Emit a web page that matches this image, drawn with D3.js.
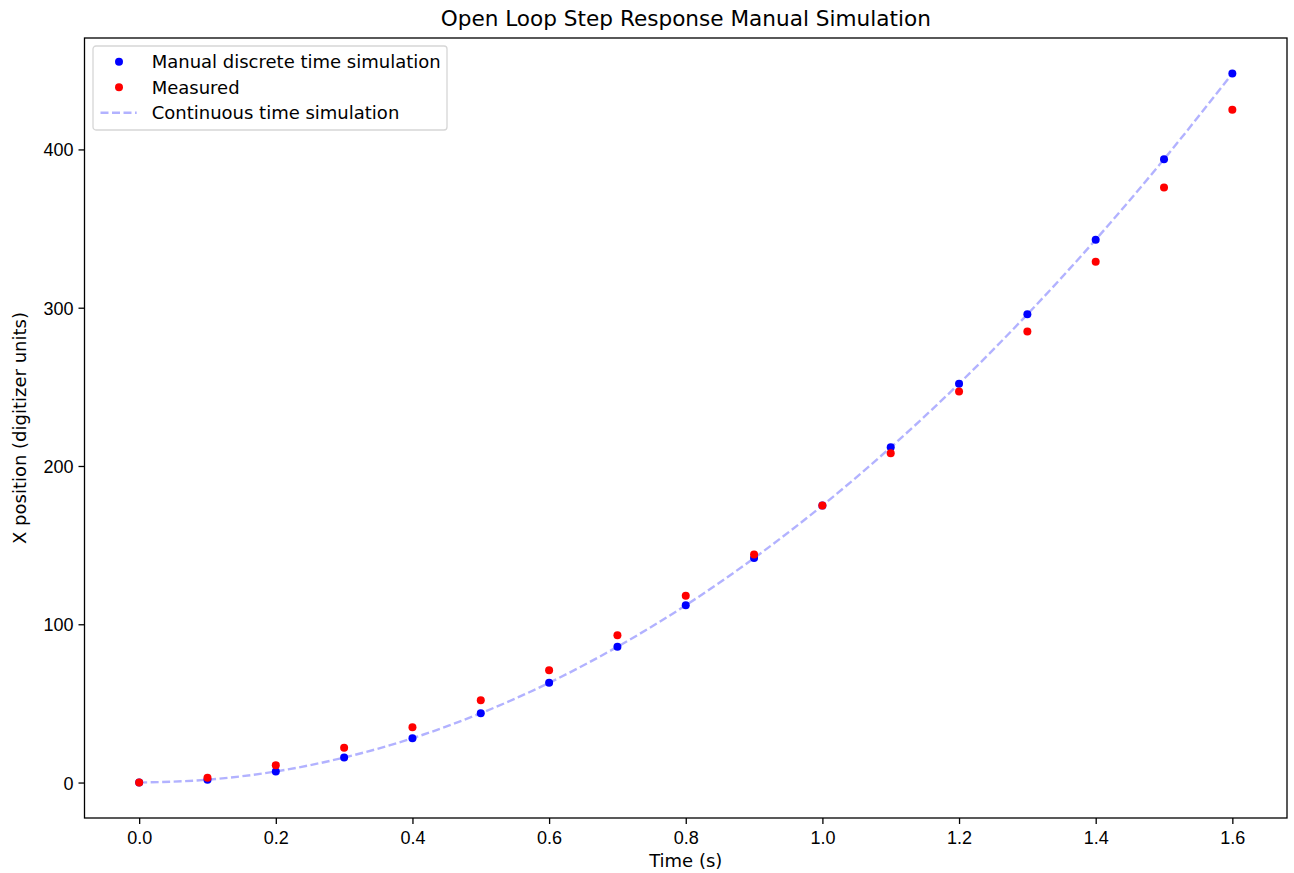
<!DOCTYPE html>
<html>
<head>
<meta charset="utf-8">
<script src="https://cdn.jsdelivr.net/npm/d3@7"></script>
<style>
  body { margin: 0; background: #fff; }
  svg { font-family: "DejaVu Sans", sans-serif; }
  .tick text { font-size: 18px; fill: #000; }
  .tick line { stroke: #000; stroke-width: 1.3; }
</style>
</head>
<body>
<svg id="chart"></svg>
<script>
// time samples (s)
const times = [0.0, 0.1, 0.2, 0.3, 0.4, 0.5, 0.6, 0.7, 0.8, 0.9, 1.0, 1.1, 1.2, 1.3, 1.4, 1.5, 1.6];
// manual discrete time simulation (blue dots)
const manualValues = [0, 1.8, 7, 15.8, 28, 43.8, 63, 85.8, 112, 141.8, 175, 211.8, 252, 295.8, 343, 393.8, 448];
// measured (red dots)
const measuredValues = [0, 3, 11, 22, 35, 52, 71, 93, 118, 144, 175, 208, 247, 285, 329, 376, 425];
// continuous time simulation (dashed line), read at the same times
const continuousValues = [0, 1.8, 7, 15.8, 28, 43.8, 63, 85.8, 112, 141.8, 175, 211.8, 252, 295.8, 343, 393.8, 448];

const xTicks = [0, 0.2, 0.4, 0.6, 0.8, 1.0, 1.2, 1.4, 1.6];
const yTicks = [0, 100, 200, 300, 400];

const legendLabels = ['Manual discrete time simulation', 'Measured', 'Continuous time simulation'];

const width = 1294, height = 873;
const margin = {top: 38, right: 7, bottom: 55, left: 84.5};
const innerW = width - margin.left - margin.right;
const innerH = height - margin.top - margin.bottom;

const svg = d3.select('#chart')
    .attr('width', width)
    .attr('height', height);

const chart = svg.append('g')
    .attr('transform', `translate(${margin.left},${margin.top})`);

const xScale = d3.scaleLinear()
    .domain([-0.08, 1.68])
    .range([0, innerW]);

const yScale = d3.scaleLinear()
    .domain([-22.4, 470.4])
    .range([innerH, 0]);

// axes
const xAxis = d3.axisBottom(xScale)
    .tickValues(xTicks)
    .tickSize(6)
    .tickSizeOuter(0)
    .tickPadding(5)
    .tickFormat(d3.format('.1f'));

const yAxis = d3.axisLeft(yScale)
    .tickValues(yTicks)
    .tickSize(6)
    .tickSizeOuter(0)
    .tickPadding(5)
    .tickFormat(d3.format('d'));

chart.append('g')
    .attr('transform', `translate(0,${innerH})`)
    .call(xAxis)
    .call(g => g.select('.domain').remove())
    .selectAll('text').attr('dy', '0.85em');

chart.append('g')
    .call(yAxis)
    .call(g => g.select('.domain').remove())
    .selectAll('text').attr('dy', '0.36em');

// continuous line
const line = d3.line()
    .x((d, i) => xScale(times[i]))
    .y(d => yScale(d))
    .curve(d3.curveMonotoneX);

chart.append('path')
    .datum(continuousValues)
    .attr('d', line)
    .attr('fill', 'none')
    .attr('stroke', 'blue')
    .attr('stroke-opacity', 0.3)
    .attr('stroke-width', 2.4)
    .attr('stroke-dasharray', '8,3.5');

// dots
chart.selectAll('.manual')
    .data(manualValues)
  .join('circle')
    .attr('class', 'manual')
    .attr('cx', (d, i) => xScale(times[i]))
    .attr('cy', d => yScale(d))
    .attr('r', 4)
    .attr('fill', 'blue');

chart.selectAll('.measured')
    .data(measuredValues)
  .join('circle')
    .attr('class', 'measured')
    .attr('cx', (d, i) => xScale(times[i]))
    .attr('cy', d => yScale(d))
    .attr('r', 4)
    .attr('fill', 'red');

// frame
chart.append('rect')
    .attr('width', innerW)
    .attr('height', innerH)
    .attr('fill', 'none')
    .attr('stroke', '#000')
    .attr('stroke-width', 1.3);

// title & axis labels
svg.append('text')
    .attr('x', margin.left + innerW / 2)
    .attr('y', 26)
    .attr('text-anchor', 'middle')
    .style('font-size', '21.6px')
    .text('Open Loop Step Response Manual Simulation');

svg.append('text')
    .attr('x', margin.left + innerW / 2)
    .attr('y', 867)
    .attr('text-anchor', 'middle')
    .style('font-size', '18px')
    .text('Time (s)');

svg.append('text')
    .attr('transform', `translate(26,${margin.top + innerH / 2}) rotate(-90)`)
    .attr('text-anchor', 'middle')
    .style('font-size', '18px')
    .text('X position (digitizer units)');

// legend
const legend = svg.append('g')
    .attr('transform', 'translate(93,46)');

legend.append('rect')
    .attr('width', 354)
    .attr('height', 84)
    .attr('rx', 3)
    .attr('fill', '#fff')
    .attr('fill-opacity', 0.8)
    .attr('stroke', '#d6d6d6')
    .attr('stroke-width', 1.3);

const rowY = [15.7, 41.3, 66.7];
const legendColors = ['blue', 'red'];

legendColors.forEach((c, i) => {
  legend.append('circle')
      .attr('cx', 26)
      .attr('cy', rowY[i])
      .attr('r', 4)
      .attr('fill', c);
});

legend.append('line')
    .attr('x1', 7.5).attr('x2', 43.7)
    .attr('y1', rowY[2]).attr('y2', rowY[2])
    .attr('stroke', 'blue')
    .attr('stroke-opacity', 0.3)
    .attr('stroke-width', 2.4)
    .attr('stroke-dasharray', '8,3.5');

legendLabels.forEach((t, i) => {
  legend.append('text')
      .attr('x', 58.7)
      .attr('y', rowY[i])
      .attr('dy', '0.36em')
      .style('font-size', '18px')
      .text(t);
});
</script>
</body>
</html>
